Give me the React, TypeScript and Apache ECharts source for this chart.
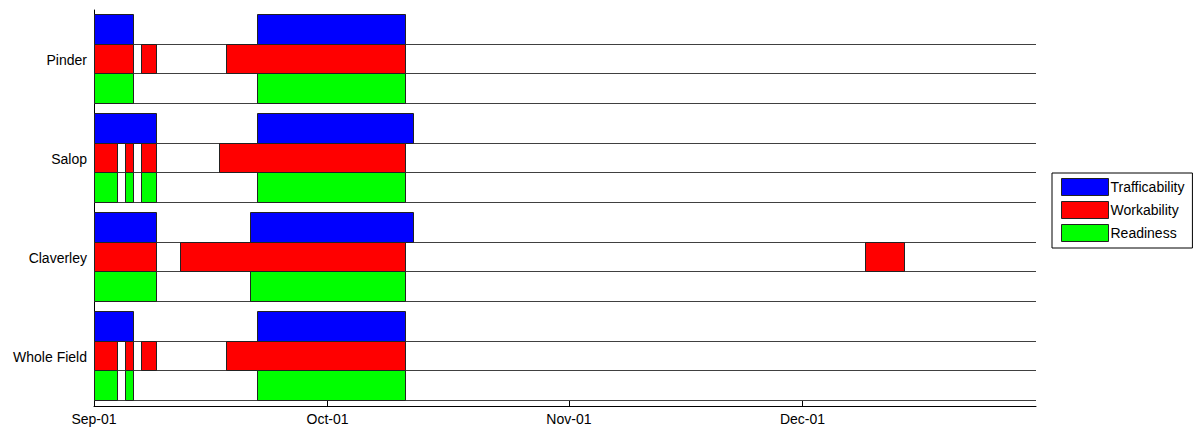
import React, { useEffect, useRef } from "react";
import * as echarts from "echarts";

const YEAR = 2010;
const groups = ["Pinder", "Salop", "Claverley", "Whole Field"];
const seriesNames = ["Trafficability", "Workability", "Readiness"];
const seriesColors = ["#0000ff", "#ff0000", "#00ff00"];
const xMin = "09-01";
const xMax = "12-31";

// [start, end) periods per group (month-day)
const trafficability: [string, string][][] = [
  [["09-01", "09-06"], ["09-22", "10-11"]],
  [["09-01", "09-09"], ["09-22", "10-12"]],
  [["09-01", "09-09"], ["09-21", "10-12"]],
  [["09-01", "09-06"], ["09-22", "10-11"]],
];
const workability: [string, string][][] = [
  [["09-01", "09-06"], ["09-07", "09-09"], ["09-18", "10-11"]],
  [["09-01", "09-04"], ["09-05", "09-06"], ["09-07", "09-09"], ["09-17", "10-11"]],
  [["09-01", "09-09"], ["09-12", "10-11"], ["12-09", "12-14"]],
  [["09-01", "09-04"], ["09-05", "09-06"], ["09-07", "09-09"], ["09-18", "10-11"]],
];
const readiness: [string, string][][] = [
  [["09-01", "09-06"], ["09-22", "10-11"]],
  [["09-01", "09-04"], ["09-05", "09-06"], ["09-07", "09-09"], ["09-22", "10-11"]],
  [["09-01", "09-09"], ["09-21", "10-11"]],
  [["09-01", "09-04"], ["09-05", "09-06"], ["09-22", "10-11"]],
];

const PAD = 0.04;
const ROW = 0.3;
const FONT = "'Liberation Sans', Arial, sans-serif";

const toTime = (md: string) => {
  const [m, d] = md.split("-").map(Number);
  return new Date(YEAR, m - 1, d).getTime();
};

export default function App() {
  const ref = useRef<HTMLDivElement>(null);
  useEffect(() => {
    if (!ref.current) return;
    const chart = echarts.init(ref.current, null, { renderer: "svg" });
    const all = [trafficability, workability, readiness];

    const barSeries = all.map((periods, row) => ({
      type: "custom",
      name: seriesNames[row],
      z: 3,
      clip: false,
      itemStyle: { color: seriesColors[row] },
      encode: { x: [1, 2], y: 0 },
      data: periods.flatMap((list, g) => list.map(([s, e]) => [g, toTime(s), toTime(e)])),
      renderItem: (params: any, api: any) => {
        const g = api.value(0);
        const p0 = api.coord([api.value(1), g]);
        const p1 = api.coord([api.value(2), g]);
        const band = api.size([0, 1])[1];
        const top = Math.round(p0[1] - band / 2 + band * (PAD + row * ROW));
        const bottom = Math.round(p0[1] - band / 2 + band * (PAD + (row + 1) * ROW));
        const x0 = Math.round(p0[0]);
        const x1 = Math.round(p1[0]);
        return {
          type: "rect",
          shape: { x: x0 + 0.5, y: top + 0.5, width: x1 - x0, height: bottom - top },
          style: { fill: seriesColors[row], stroke: "#222", lineWidth: 1 },
        };
      },
    }));

    const baseData: number[][] = [];
    groups.forEach((_, g) => {
      for (let r = 0; r < 3; r++) baseData.push([toTime(xMin), g, r]);
    });

    const baseSeries = {
      type: "custom",
      name: "baselines",
      z: 1,
      clip: false,
      silent: true,
      encode: { x: 0, y: 1 },
      data: baseData,
      renderItem: (params: any, api: any) => {
        const c = api.coord([api.value(0), api.value(1)]);
        const r = api.value(2);
        const band = api.size([0, 1])[1];
        const y = Math.round(c[1] - band / 2 + band * (PAD + (r + 1) * ROW)) + 0.5;
        const cs = params.coordSys;
        return {
          type: "line",
          shape: { x1: cs.x, y1: y, x2: cs.x + cs.width, y2: y },
          style: { stroke: "#404040", lineWidth: 1 },
        };
      },
    };

    chart.setOption({
      animation: false,
      grid: { left: 94, right: 166, top: 10, bottom: 24 },
      legend: {
        data: seriesNames,
        orient: "vertical",
        left: 1052,
        top: 173,
        icon: "rect",
        itemWidth: 47,
        itemHeight: 17,
        itemGap: 5,
        padding: [5, 8, 6, 9],
        borderColor: "#000",
        borderWidth: 1,
        borderRadius: 0,
        selectedMode: false,
        itemStyle: { borderColor: "#222", borderWidth: 1 },
        textStyle: { fontSize: 14, color: "#000", fontFamily: FONT, padding: [0, 0, 0, -3] },
      },
      xAxis: {
        type: "time",
        min: toTime(xMin),
        max: toTime(xMax),
        minInterval: 28 * 86400000,
        maxInterval: 31 * 86400000,
        splitLine: { show: false },
        axisLine: { show: true, lineStyle: { color: "#000", width: 1 } },
        axisTick: { show: true, inside: true, length: 6, lineStyle: { color: "#000" } },
        axisLabel: {
          formatter: "{MMM}-{dd}",
          color: "#000",
          fontSize: 14,
          fontFamily: FONT,
          margin: 6,
        },
      },
      yAxis: {
        type: "category",
        data: groups,
        inverse: true,
        axisLine: { show: true, lineStyle: { color: "#000", width: 1 } },
        axisTick: { show: false },
        splitLine: { show: false },
        axisLabel: { color: "#000", fontSize: 14, fontFamily: FONT, margin: 7 },
      },
      series: [baseSeries, ...barSeries],
    });
    return () => chart.dispose();
  }, []);
  return (
    <div
      ref={ref}
      style={{ position: "fixed", left: 0, top: 0, width: 1202, height: 430, background: "#fff" }}
    />
  );
}
